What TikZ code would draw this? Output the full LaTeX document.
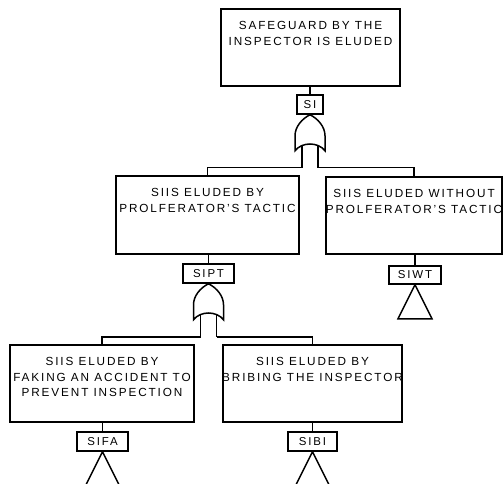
\documentclass[tikz,border=0pt]{standalone}
\usepackage{fontspec}
\setmainfont{Liberation Sans}[LetterSpace=16]
\begin{document}
\begin{tikzpicture}[x=1bp,y=-1bp,
  wire/.style={line width=1.5bp, line join=miter},
  event/.style={draw, wire, rectangle, inner sep=0pt},
  caption/.style={anchor=north, inner sep=0pt, align=center,
    font=\fontsize{11.8}{15.6}\selectfont},
  tag/.style={draw, wire, rectangle, inner sep=0pt,
    font=\fontsize{11.5}{12}\selectfont},
  orgate/.pic={
    % input legs, then the gate body on top of them
    \coordinate (-l1) at (-8,26);
    \coordinate (-l2) at (8,26);
    \coordinate (-in1) at (-8,53);
    \coordinate (-in2) at (8,53);
    \draw[wire] (-l1) -- (-in1);
    \draw[wire] (-l2) -- (-in2);
    \draw[wire, fill=white] (0,0) .. controls (8,4) and (15,12) .. (15,21)
      -- (15,36) .. controls (8,27) and (-8,27) .. (-15,36)
      -- (-15,21) .. controls (-15,12) and (-8,4) .. (0,0) -- cycle;
  },
  transfer/.pic={
    \draw[wire] (0,0) -- (-17,34) -- (17,34) -- cycle;
  },
]
\useasboundingbox (0,0) rectangle (503,484);
\clip (0,0) rectangle (503,484);

% event boxes
\node[event, minimum width=179bp, minimum height=77bp] (top) at (310.5,47.5) {};
\node[event, minimum width=183bp, minimum height=78bp] (midL) at (207.5,215) {};
\node[event, minimum width=176bp, minimum height=77bp] (midR) at (414,215.5) {};
\node[event, minimum width=184bp, minimum height=77bp] (botL) at (102,383.5) {};
\node[event, minimum width=179bp, minimum height=77bp] (botR) at (312.5,383.5) {};

% event descriptions
\node[caption, yshift=-13bp] (topT) at (top.north)
  {SAFEGUARD BY THE\\INSPECTOR IS ELUDED};
\node[caption, yshift=-13bp] (midLT) at (midL.north)
  {SIIS ELUDED BY\\PROLFERATOR'S TACTIC};
\node[caption, yshift=-13bp] (midRT) at (midR.north)
  {SIIS ELUDED WITHOUT\\PROLFERATOR'S TACTIC};
\node[caption, yshift=-13bp] (botLT) at (botL.north)
  {SIIS ELUDED BY\\FAKING AN ACCIDENT TO\\PREVENT INSPECTION};
\node[caption, yshift=-13bp] (botRT) at (botR.north)
  {SIIS ELUDED BY\\BRIBING THE INSPECTOR};

% identifiers
\node[tag, minimum width=26bp, minimum height=19bp] (SI) at (310,104.5) {SI};
\node[tag, minimum width=51bp, minimum height=19bp] (SIPT) at (208.5,273.5) {SIPT};
\node[tag, minimum width=52bp, minimum height=18bp] (SIWT) at (415,275) {SIWT};
\node[tag, minimum width=51bp, minimum height=19bp] (SIFA) at (102.5,441.5) {SIFA};
\node[tag, minimum width=49bp, minimum height=19bp] (SIBI) at (312.5,441.5) {SIBI};

% box to identifier
\foreach \t/\b in {SI/top, SIPT/midL, SIWT/midR, SIFA/botL, SIBI/botR}
  \draw[wire] (\t.north) -- (\t.north |- \b.south);

% OR gates and their inputs
\pic (g1) at (SI.south) {orgate};
\pic (g2) at (SIPT.south) {orgate};
\draw[wire] (g1-in1) -| (midL.north);
\draw[wire] (g1-in2) -| (midR.north);
\draw[wire] (g2-in1) -| (botL.north);
\draw[wire] (g2-in2) -| (botR.north);

% transfer triangles
\pic at (SIWT.south) {transfer};
\pic at (SIFA.south) {transfer};
\pic at (SIBI.south) {transfer};
\end{tikzpicture}
\end{document}
